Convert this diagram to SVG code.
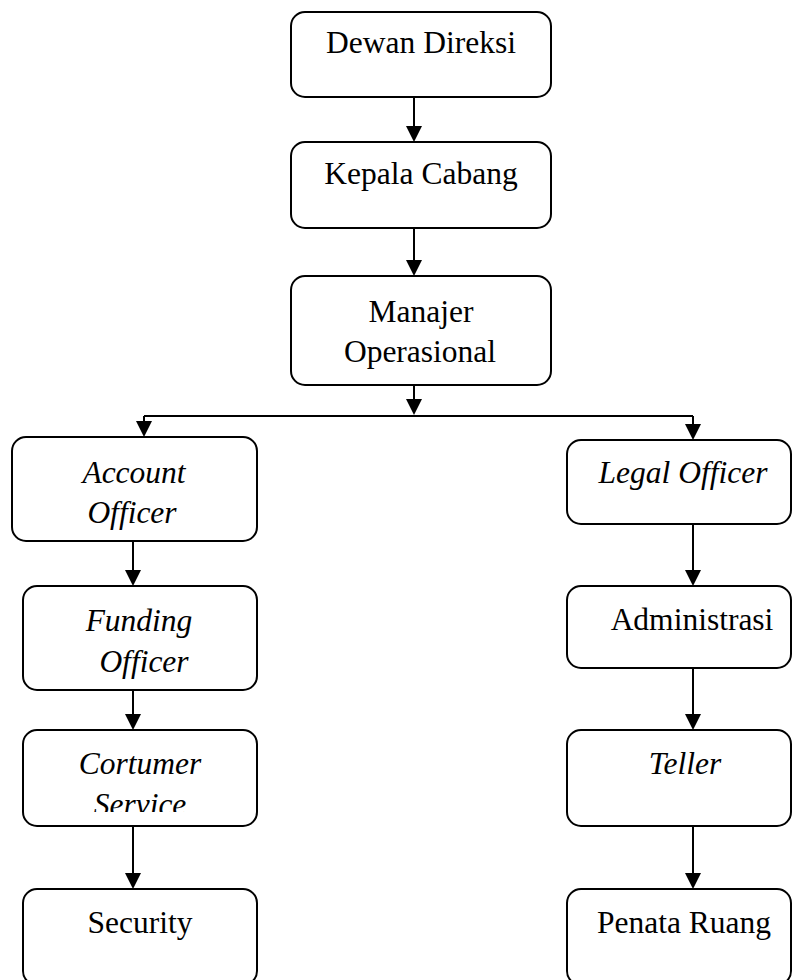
<svg xmlns="http://www.w3.org/2000/svg" width="792" height="980" viewBox="0 0 792 980">
<style>
.box{fill:#fff;stroke:#000;stroke-width:2}
.t{font-family:"Liberation Serif","Times New Roman",serif;font-size:31.5px;fill:#000;text-anchor:middle}
.i{font-style:italic}
.c{fill:none;stroke:#000;stroke-width:2}
</style>
<defs>
<marker id="ah" viewBox="0 0 16 16" markerWidth="16" markerHeight="16" markerUnits="userSpaceOnUse" refX="12" refY="8" orient="auto">
<path d="M0,0 L16,8 L0,16 z" fill="#000"/>
</marker>
<clipPath id="csclip"><rect x="23" y="730" width="235" height="82"/></clipPath>
</defs>
<rect width="792" height="980" fill="#fff"/>
<g id="connectors">
<path class="c" d="M414,97 V138" marker-end="url(#ah)"/>
<path class="c" d="M414,228 V272" marker-end="url(#ah)"/>
<path class="c" d="M414,385 V411" marker-end="url(#ah)"/>
<path class="c" d="M144,416 H693"/>
<path class="c" d="M144,416 V433" marker-end="url(#ah)"/>
<path class="c" d="M693,416 V436" marker-end="url(#ah)"/>
<path class="c" d="M133,541 V582" marker-end="url(#ah)"/>
<path class="c" d="M133,690 V726" marker-end="url(#ah)"/>
<path class="c" d="M133,826 V885" marker-end="url(#ah)"/>
<path class="c" d="M693,524 V582" marker-end="url(#ah)"/>
<path class="c" d="M693,668 V726" marker-end="url(#ah)"/>
<path class="c" d="M693,826 V885" marker-end="url(#ah)"/>
</g>
<g id="dewan-direksi">
<rect class="box" x="291" y="12" width="260" height="85" rx="14"/>
<text class="t" x="421" y="53">Dewan Direksi</text>
</g>
<g id="kepala-cabang">
<rect class="box" x="291" y="142" width="260" height="86" rx="14"/>
<text class="t" x="421" y="184">Kepala Cabang</text>
</g>
<g id="manajer-operasional">
<rect class="box" x="291" y="276" width="260" height="109" rx="14"/>
<text class="t" x="421" y="322">Manajer</text>
<text class="t" x="420" y="362">Operasional</text>
</g>
<g id="account-officer">
<rect class="box" x="12" y="437" width="245" height="104" rx="14"/>
<text class="t i" x="134" y="483">Account</text>
<text class="t i" x="132" y="523">Officer</text>
</g>
<g id="funding-officer">
<rect class="box" x="23" y="586" width="234" height="104" rx="14"/>
<text class="t i" x="139" y="631">Funding</text>
<text class="t i" x="144" y="672">Officer</text>
</g>
<g id="cortumer-service">
<rect class="box" x="23" y="730" width="234" height="96" rx="14"/>
<g clip-path="url(#csclip)">
<text class="t i" x="140" y="774">Cortumer</text>
<text class="t i" x="140" y="815">Service</text>
</g>
</g>
<g id="security">
<rect class="box" x="23" y="889" width="234" height="96" rx="14"/>
<text class="t" x="140" y="933">Security</text>
</g>
<g id="legal-officer">
<rect class="box" x="567" y="440" width="224" height="84" rx="14"/>
<text class="t i" x="683" y="483">Legal Officer</text>
</g>
<g id="administrasi">
<rect class="box" x="567" y="586" width="224" height="82" rx="14"/>
<text class="t" x="692" y="630">Administrasi</text>
</g>
<g id="teller">
<rect class="box" x="567" y="730" width="224" height="96" rx="14"/>
<text class="t i" x="685" y="774">Teller</text>
</g>
<g id="penata-ruang">
<rect class="box" x="567" y="889" width="224" height="96" rx="14"/>
<text class="t" x="684" y="933">Penata Ruang</text>
</g>
</svg>
